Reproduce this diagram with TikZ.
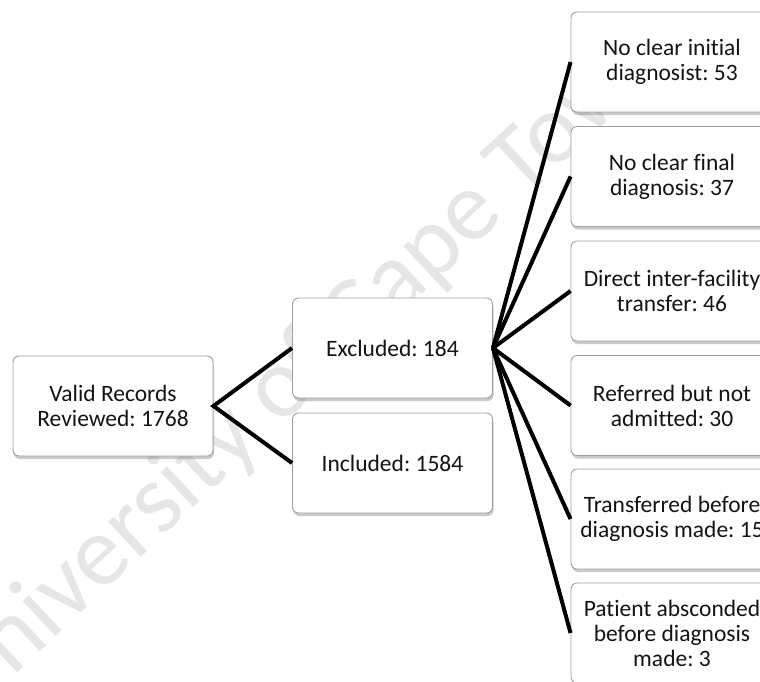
\documentclass[tikz,border=0pt]{standalone}
\usepackage{fontspec}
\setmainfont{Carlito}[Ligatures=NoCommon]
\usetikzlibrary{shadows}
\definecolor{wm}{HTML}{E6E6E6}
\definecolor{boxline}{HTML}{A0A0A0}
\definecolor{txt}{HTML}{141414}
\tikzset{
  box/.style={draw=boxline, line width=0.9pt, fill=white, rounded corners=6pt,
    minimum width=200pt, minimum height=100pt, align=center, inner sep=2pt,
    text=txt, font=\fontsize{23.5}{25}\selectfont,
    drop shadow={shadow xshift=1pt, shadow yshift=-3pt, opacity=0.35, fill=black!60}},
  rbox/.style={box, minimum width=202pt},
  link/.style={line width=4pt, black}
}
\frenchspacing
\begin{document}
\begin{tikzpicture}[x=1pt, y=-1pt]
\useasboundingbox (0,0) rectangle (760,681);
\clip (0,0) rectangle (760,681);
% watermark
\node[anchor=base west, rotate=43, inner sep=0pt, text=wm,
  font=\fontsize{100}{100}\selectfont] (wmark) at (-35,721) {University of Cape Town};
% nodes
\node[box] (valid) at (113,406) {Valid Records\\Reviewed: 1768};
\node[box] (excl) at (392.5,348) {Excluded: 184};
\node[box] (incl) at (392.5,463) {Included: 1584};
\node[rbox] (r1) at (672,62) {No clear initial\\diagnosist: 53};
\node[rbox] (r2) at (672,176.5) {No clear final\\diagnosis: 37};
\node[rbox] (r3) at (672,291) {Direct inter-facility\\transfer: 46};
\node[rbox] (r4) at (672,405.5) {Referred but not\\admitted: 30};
\node[rbox] (r5) at (672,519) {Transferred before\\diagnosis made: 15};
\node[rbox] (r6) at (672,633) {Patient absconded\\before diagnosis\\made: 3};
% connectors
\draw[link] (excl.west) -- (valid.east) -- (incl.west);
\foreach \r in {r1,r2,r3,r4,r5,r6}{
  \draw[link] (excl.east) -- (\r.west);
}
\end{tikzpicture}
\end{document}
